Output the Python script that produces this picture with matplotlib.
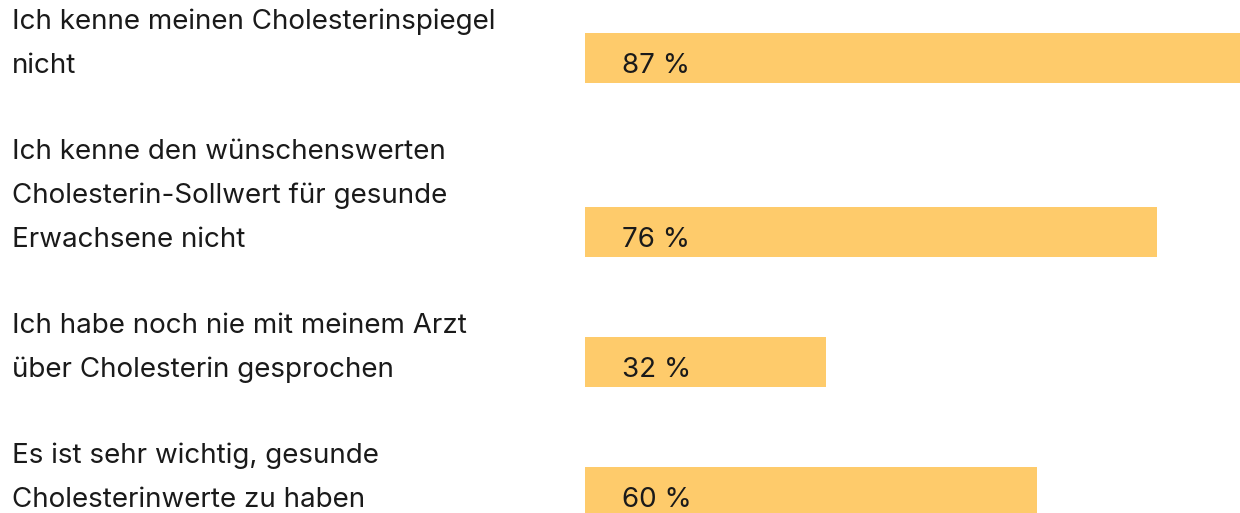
import matplotlib.pyplot as plt

# data
labels = [
    "Ich kenne meinen Cholesterinspiegel\nnicht",
    "Ich kenne den wünschenswerten\nCholesterin-Sollwert für gesunde\nErwachsene nicht",
    "Ich habe noch nie mit meinem Arzt\nüber Cholesterin gesprochen",
    "Es ist sehr wichtig, gesunde\nCholesterinwerte zu haben",
]
values = [87, 76, 32, 60]

bar_color = "#FECB6B"
text_color = "#1a1a1a"
font = "Inter"

W, H = 1240, 513
fig = plt.figure(figsize=(W / 100, H / 100), dpi=100)

# bars start at x=585 px, 87 % reaches the right edge
bar_left = 585
px_per_unit = (W - bar_left) / max(values)
ax = fig.add_axes([bar_left / W, 0, 1 - bar_left / W, 1])
ax.set_xlim(0, max(values))
ax.set_ylim(H, 0)  # y in pixels from the top
ax.axis("off")

line_h = 44
bar_h = 50
bottom = 83  # bottom edge of first bar
for i, (lab, val) in enumerate(zip(labels, values)):
    lines = lab.split("\n")
    if i > 0:
        bottom += 42 + line_h * len(lines)
    ax.barh(bottom - bar_h / 2, val, height=bar_h, color=bar_color, lw=0)
    base = bottom - 10
    for k, ln in enumerate(reversed(lines)):
        ax.text((12 - bar_left) / px_per_unit, base - k * line_h, ln,
                ha="left", va="baseline", fontsize=20, family=font,
                color=text_color, clip_on=False)
    ax.text(37 / px_per_unit, base, f"{val} %", ha="left", va="baseline",
            fontsize=20, family=font, color=text_color)

fig.savefig("out.png", dpi=100)
